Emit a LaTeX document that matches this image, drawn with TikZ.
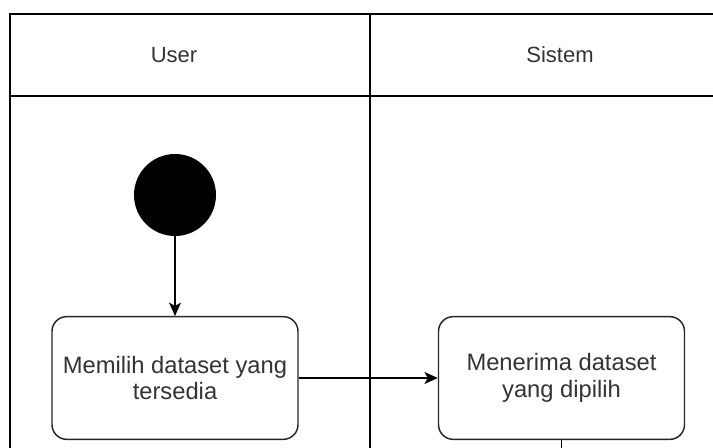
\documentclass[tikz,border=0pt]{standalone}
\usepackage{fontspec}
\setmainfont{Liberation Sans}
\usetikzlibrary{arrows.meta}
\begin{document}
\begin{tikzpicture}[x=0.75pt,y=-0.75pt,
    lane/.style={draw=black,line width=0.9pt},
    lanehead/.style={font=\fontsize{16.5}{19.5}\selectfont,text=black!80},
    start/.style={circle,fill=black,minimum size=61.5pt,inner sep=0pt},
    activity/.style={draw=black!85,line width=1.1pt,fill=white,rounded corners=11pt,
        minimum width=184.5pt,minimum height=92pt,inner sep=0pt,align=center,
        font=\fontsize{17.8}{20}\selectfont,text=black!80},
    flow/.style={draw=black,line width=1pt,-{Stealth[length=10pt,width=9pt,inset=2.5pt]}}]
    \useasboundingbox (0,0) rectangle (713,448);
    \clip (0,0) rectangle (713,448);
    % swimlanes
    \draw[lane] (10,14) rectangle (750,480);
    \draw[lane] (10,96) -- (750,96);
    \draw[lane] (370,14) -- (370,480);
    \node[lanehead] (user) at (174,55) {User};
    \node[lanehead] (sistem) at (560,55) {Sistem};
    % activities
    \node[start] (mulai) at (175,195) {};
    \node[activity] (pilih) at (175,378) {Memilih dataset yang\\tersedia};
    \node[activity] (terima) at (561.5,378) {Menerima dataset\\yang dipilih};
    \coordinate (lanjut) at (561.5,470);
    \draw[flow] (mulai) -- (pilih);
    \draw[flow] (pilih) -- (terima);
    \draw[flow,-] (terima) -- (lanjut);
\end{tikzpicture}
\end{document}
